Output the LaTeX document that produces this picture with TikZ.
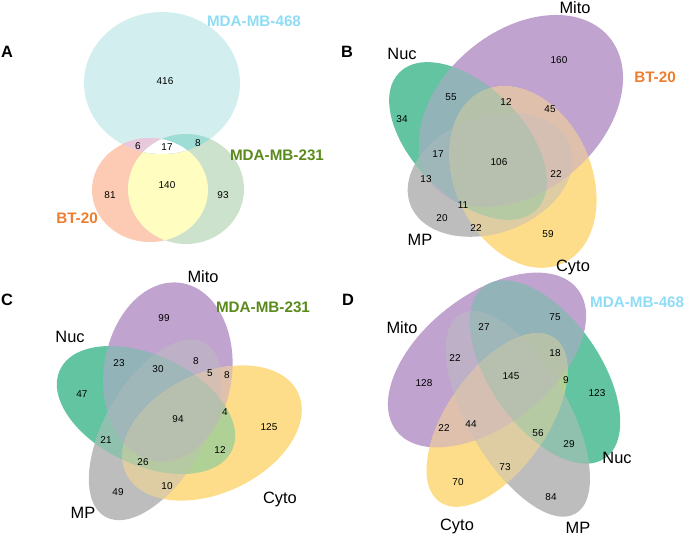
\documentclass[tikz,border=0pt]{standalone}
\usepackage{fontspec}
\setmainfont{Liberation Sans}
\usetikzlibrary{positioning}
% cell lines, panel A
\definecolor{fill468}{HTML}{D3EEEF}
\definecolor{fillbt}{HTML}{FDCBB4}
\definecolor{fill231}{HTML}{CDE2CD}
\definecolor{fillbtx231}{HTML}{FFFDC0}
\definecolor{fillbtx468}{HTML}{E8C8DA}
\definecolor{fill231x468}{HTML}{9DDDD6}
\definecolor{txt468}{HTML}{8FDDF5}
\definecolor{txt231}{HTML}{5B8A1C}
\definecolor{txtbt}{HTML}{EE7E2E}
% compartments, panels B-D
\definecolor{nuc}{HTML}{63C4A2}
\definecolor{mito}{HTML}{C0A3CF}
\definecolor{cyto}{HTML}{FEDD8A}
\definecolor{mp}{HTML}{BDBDBD}
\tikzset{
  cnt/.style={font=\fontsize{8.5}{9}\selectfont, inner sep=0pt},
  setname/.style={font=\fontsize{14}{16}\selectfont, inner sep=0pt},
  cellname/.style={font=\fontsize{13}{15}\selectfont\bfseries, text=#1, inner sep=0pt},
  panel/.style={font=\fontsize{14}{16}\selectfont\bfseries, inner sep=0pt},
}
% one clip per panel and set
\newcommand{\BN}{\clip[rotate around={-45:(468,141)}] (468,141) ellipse [x radius=97, y radius=55];}
\newcommand{\BM}{\clip[rotate around={40:(521,111)}] (521,111) ellipse [x radius=115, y radius=80];}
\newcommand{\BC}{\clip[rotate around={-65:(523,177)}] (523,177) ellipse [x radius=95, y radius=68];}
\newcommand{\BP}{\clip[rotate around={20:(490,175)}] (490,175) ellipse [x radius=85, y radius=58];}
\newcommand{\CN}{\clip[rotate around={-25:(146,410)}] (146,410) ellipse [x radius=95, y radius=55];}
\newcommand{\CM}{\clip[rotate around={-8:(168,372)}] (168,372) ellipse [x radius=64, y radius=90];}
\newcommand{\CC}{\clip[rotate around={25:(212,433)}] (212,433) ellipse [x radius=95, y radius=60];}
\newcommand{\CP}{\clip[rotate around={60:(155,430)}] (155,430) ellipse [x radius=100, y radius=50];}
\newcommand{\DN}{\clip[rotate around={-55:(545,372)}] (545,372) ellipse [x radius=105, y radius=55];}
\newcommand{\DM}{\clip[rotate around={38:(487,360)}] (487,360) ellipse [x radius=115, y radius=65];}
\newcommand{\DC}{\clip[rotate around={55:(497,420)}] (497,420) ellipse [x radius=100, y radius=50];}
\newcommand{\DP}{\clip[rotate around={-60:(518,414)}] (518,414) ellipse [x radius=115, y radius=50];}
\begin{document}
\begin{tikzpicture}[x=0.03cm, y=-0.03cm]
\useasboundingbox (0,0) rectangle (685,536);

% ---- A ----
\fill[fill468] (162,83) ellipse [x radius=78, y radius=71];
\fill[fillbt] (150,190) ellipse [x radius=58, y radius=52];
\fill[fill231] (186,189) ellipse [x radius=58, y radius=55];
\begin{scope}
  \clip (150,190) ellipse [x radius=58, y radius=52];
  \fill[fillbtx231] (186,189) ellipse [x radius=58, y radius=55];
\end{scope}
\begin{scope}
  \clip (162,83) ellipse [x radius=78, y radius=71];
  \fill[fillbtx468] (150,190) ellipse [x radius=58, y radius=52];
  \fill[fill231x468] (186,189) ellipse [x radius=58, y radius=55];
  \clip (150,190) ellipse [x radius=58, y radius=52];
  \fill[white] (186,189) ellipse [x radius=58, y radius=55];
\end{scope}
\node[panel] (pA) at (7,52) {A};
\node[cellname=txt468] (n468) at (254,21) {MDA-MB-468};
\node[cellname=txt231] (n231) at (277,155) {MDA-MB-231};
\node[cellname=txtbt] (nbt) at (77,218) {BT-20};
\node[cnt] (a416) at (165,81) {416};
\node[cnt] (a6) at (138,146) {6};
\node[cnt] (a17) at (167,147) {17};
\node[cnt] (a8) at (198,143) {8};
\node[cnt] (a140) at (167,185) {140};
\node[cnt] (a81) at (110,195) {81};
\node[cnt] (a93) at (223,195) {93};

% ---- B-D: each overlap gets the mean colour of its sets ----
\foreach \p in {B,C,D}{
  \foreach \sets/\col in {{N}/nuc, {M}/mito, {C}/cyto, {P}/mp,
      {N,M}/nuc!50!mito, {N,C}/nuc!50!cyto, {N,P}/nuc!50!mp,
      {M,C}/mito!50!cyto, {M,P}/mito!50!mp, {C,P}/cyto!50!mp,
      {N,M,C}/nuc!50!mito!67!cyto, {N,M,P}/nuc!50!mito!67!mp,
      {N,C,P}/nuc!50!cyto!67!mp, {M,C,P}/mito!50!cyto!67!mp,
      {N,M,C,P}/nuc!50!mito!67!cyto!75!mp}{
    \begin{scope}
      \foreach \s in \sets {\csname\p\s\endcsname}
      \fill[\col] (0,0) rectangle (685,536);
    \end{scope}
  }
}

% ---- B ----
\node[panel] (pB) at (347,52) {B};
\node[setname] (bmito) at (575,8) {Mito};
\node[setname] (bnuc) at (402,54) {Nuc};
\node[cellname=txtbt] (bbt) at (655,77) {BT-20};
\node[setname] (bmp) at (420,240) {MP};
\node[setname] (bcyto) at (573,267) {Cyto};
\node[cnt] (b160) at (559,60) {160};
\node[cnt] (b55) at (451,97) {55};
\node[cnt] (b12) at (506,102) {12};
\node[cnt] (b45) at (550,109) {45};
\node[cnt] (b34) at (402,119) {34};
\node[cnt] (b17) at (438,154) {17};
\node[cnt] (b106) at (499,162) {106};
\node[cnt] (b22a) at (556,174) {22};
\node[cnt] (b13) at (426,179) {13};
\node[cnt] (b11) at (463,205) {11};
\node[cnt] (b20) at (442,218) {20};
\node[cnt] (b22b) at (476,228) {22};
\node[cnt] (b59) at (548,234) {59};

% ---- C ----
\node[panel] (pC) at (7,300) {C};
\node[setname] (cmito) at (203,277) {Mito};
\node[cellname=txt231] (c231) at (263,307) {MDA-MB-231};
\node[setname] (cnuc) at (70,337) {Nuc};
\node[setname] (cmp) at (83,513) {MP};
\node[setname] (ccyto) at (280,499) {Cyto};
\node[cnt] (c99) at (164,318) {99};
\node[cnt] (c23) at (119,363) {23};
\node[cnt] (c30) at (158,369) {30};
\node[cnt] (c8a) at (196,361) {8};
\node[cnt] (c5) at (210,373) {5};
\node[cnt] (c8b) at (227,375) {8};
\node[cnt] (c47) at (82,394) {47};
\node[cnt] (c4) at (225,412) {4};
\node[cnt] (c94) at (178,419) {94};
\node[cnt] (c125) at (269,427) {125};
\node[cnt] (c21) at (106,440) {21};
\node[cnt] (c12) at (220,450) {12};
\node[cnt] (c26) at (143,462) {26};
\node[cnt] (c10) at (167,486) {10};
\node[cnt] (c49) at (118,492) {49};

% ---- D ----
\node[panel] (pD) at (348,300) {D};
\node[cellname=txt468, anchor=west] (d468) at (590,302) {MDA-MB-468};
\node[setname] (dmito) at (402,328) {Mito};
\node[setname] (dnuc) at (617,458) {Nuc};
\node[setname] (dcyto) at (457,526) {Cyto};
\node[setname] (dmp) at (578,528) {MP};
\node[cnt] (d75) at (555,317) {75};
\node[cnt] (d27) at (484,327) {27};
\node[cnt] (d18) at (555,353) {18};
\node[cnt] (d22a) at (455,358) {22};
\node[cnt] (d145) at (511,376) {145};
\node[cnt] (d9) at (566,380) {9};
\node[cnt] (d128) at (424,383) {128};
\node[cnt] (d123) at (597,393) {123};
\node[cnt] (d22b) at (444,428) {22};
\node[cnt] (d44) at (471,424) {44};
\node[cnt] (d56) at (538,433) {56};
\node[cnt] (d29) at (569,444) {29};
\node[cnt] (d73) at (505,467) {73};
\node[cnt] (d70) at (458,482) {70};
\node[cnt] (d84) at (551,497) {84};
\end{tikzpicture}
\end{document}
